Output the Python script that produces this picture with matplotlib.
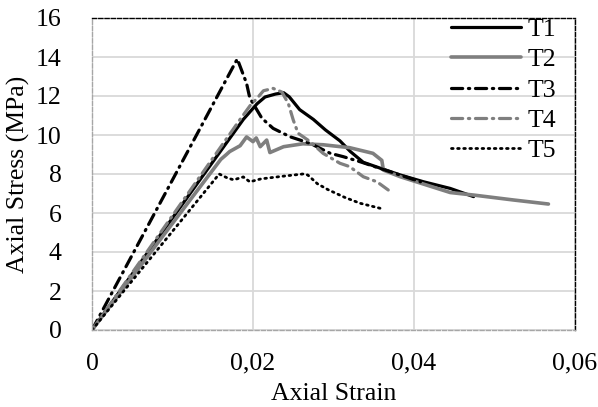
import matplotlib
matplotlib.use("Agg")
import matplotlib.pyplot as plt
from matplotlib.ticker import FixedLocator, FixedFormatter

plt.rcParams['font.family'] = ['Liberation Serif', 'DejaVu Serif']

# ---- data ----
t1_strain = [0, 0.0188, 0.0205, 0.0215, 0.0228, 0.0238, 0.0245, 0.0258, 0.0275, 0.0290,
             0.0308, 0.0321, 0.0337, 0.0358, 0.0383, 0.0412, 0.0445, 0.0474]
t1_stress = [0, 10.8, 11.6, 11.95, 12.1, 12.17, 11.96, 11.3, 10.8, 10.26,
             9.7, 9.15, 8.6, 8.3, 7.95, 7.6, 7.26, 6.84]

t2_strain = [0, 0.0160, 0.0167, 0.0171, 0.0184, 0.0192, 0.0200, 0.0204, 0.0209, 0.0217,
             0.0221, 0.0238, 0.0262, 0.0287, 0.0320, 0.0349, 0.0360, 0.0362, 0.0383,
             0.0445, 0.0474, 0.0523, 0.0567]
t2_stress = [0, 8.75, 9.0, 9.15, 9.45, 9.9, 9.66, 9.85, 9.4, 9.74,
             9.1, 9.4, 9.55, 9.5, 9.35, 9.06, 8.7, 8.2, 7.86,
             7.05, 6.92, 6.67, 6.46]

t3_strain = [0, 0.01805, 0.0192, 0.0196, 0.0211, 0.0225, 0.0246, 0.0271, 0.0296, 0.0312,
             0.0333, 0.0370, 0.0408]
t3_stress = [0, 13.9, 12.65, 11.9, 10.86, 10.34, 9.91, 9.57, 9.06, 8.89,
             8.63, 8.12, 7.6]

t4_strain = [0, 0.0184, 0.0197, 0.0205, 0.0213, 0.0225, 0.0236, 0.0244, 0.0250, 0.0256,
             0.0271, 0.0287, 0.0308, 0.0320, 0.0337, 0.0354, 0.0368]
t4_stress = [0, 10.8, 11.54, 11.88, 12.27, 12.39, 12.2, 11.6, 10.77, 10.09,
             9.66, 9.06, 8.55, 8.38, 7.86, 7.6, 7.18]

t5_strain = [0, 0.0158, 0.0168, 0.0176, 0.0188, 0.0196, 0.0210, 0.0240, 0.0262, 0.0268,
             0.0280, 0.0293, 0.0314, 0.0333, 0.0362]
t5_stress = [0, 8.0, 7.8, 7.7, 7.85, 7.6, 7.75, 7.9, 8.0, 7.95,
             7.5, 7.2, 6.8, 6.5, 6.2]

labels = ['T1', 'T2', 'T3', 'T4', 'T5']
x_ticks = [0, 0.02, 0.04, 0.06]
x_tick_labels = ['0', '0,02', '0,04', '0,06']
y_ticks = [0, 2, 4, 6, 8, 10, 12, 14, 16]

fig = plt.figure(figsize=(5.98, 4.07), dpi=100)
ax = fig.add_axes([92/598, 77/407, 483/598, 312/407])

gray = '#7f7f7f'
dashdot = (0, (3.5, 1.8, 0.4, 1.8))
ax.plot(t1_strain, t1_stress, color='black', lw=2.3, label=labels[0], solid_capstyle='round')
ax.plot(t2_strain, t2_stress, color=gray, lw=2.6, label=labels[1], solid_capstyle='round')
ax.plot(t3_strain, t3_stress, color='black', lw=2.3, label=labels[2],
        linestyle=dashdot, dash_capstyle='round')
ax.plot(t4_strain, t4_stress, color=gray, lw=2.3, label=labels[3],
        linestyle=dashdot, dash_capstyle='round')
ax.plot(t5_strain, t5_stress, color='black', lw=2.0, label=labels[4],
        linestyle=(0, (0.6, 1.6)), dash_capstyle='round')

ax.set_xlim(0, 0.06)
ax.set_ylim(0, 16)
ax.xaxis.set_major_locator(FixedLocator(x_ticks))
ax.xaxis.set_major_formatter(FixedFormatter(x_tick_labels))
ax.set_yticks(y_ticks)
ax.grid(True, color='#d9d9d9', lw=1.3)
ax.set_axisbelow(True)
ax.tick_params(length=0, labelsize=18.5)
ax.tick_params(axis='y', pad=22)
ax.tick_params(axis='x', pad=16.5)

for s in ['top', 'right']:
    ax.spines[s].set_color('black')
    ax.spines[s].set_linestyle((0, (3, 1.5)))
    ax.spines[s].set_linewidth(1.0)
for s in ['left', 'bottom']:
    ax.spines[s].set_color('#a6a6a6')
    ax.spines[s].set_linestyle((0, (3, 1.5)))
    ax.spines[s].set_linewidth(1.0)

ax.set_xlabel('Axial Strain', fontsize=18.5, labelpad=6)
ax.set_ylabel('Axial Stress (MPa)', fontsize=18.5, labelpad=4)

leg = ax.legend(loc='upper right', frameon=False, fontsize=18.5, handlelength=2.7,
                handletextpad=0.25, labelspacing=0.28, borderaxespad=0.75,
                borderpad=0.0)
leg.set_bbox_to_anchor((1.0, 1.0 + 19/312), transform=ax.transAxes)

fig.text(300/598, 1 + 5/407, 'p', ha='center', va='baseline', fontsize=18.5)

fig.savefig('out.png', dpi=100, facecolor='white')
